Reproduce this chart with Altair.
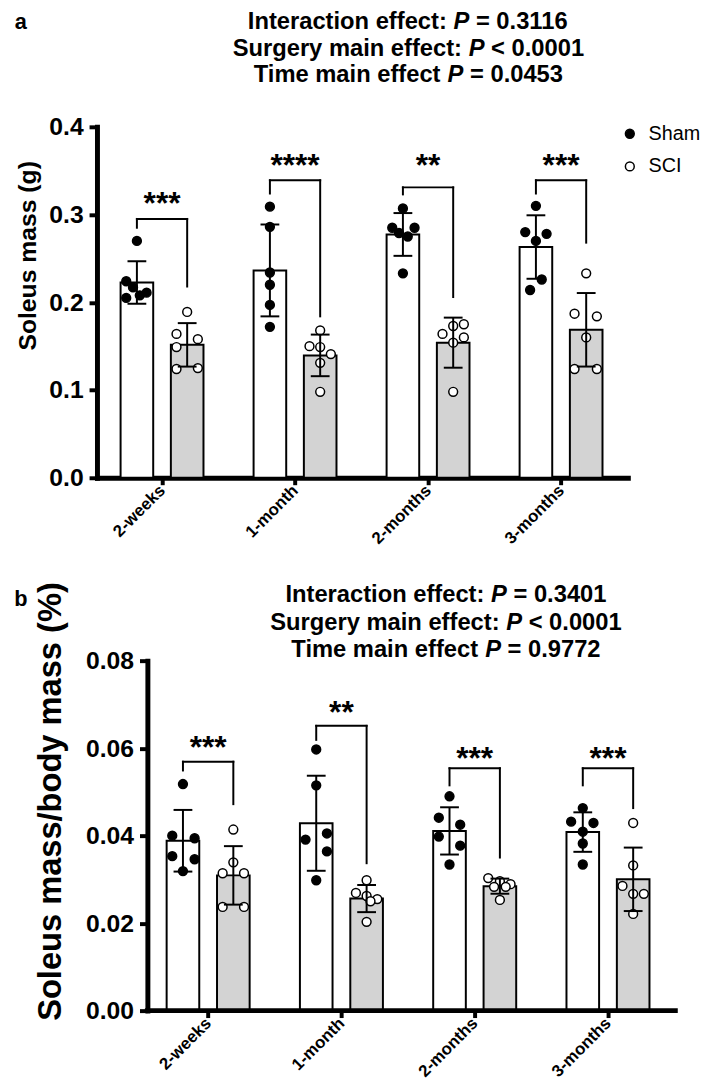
import json
import altair as alt
import pandas as pd

# ---------------- data ----------------
times = ["2-weeks", "1-month", "2-months", "3-months"]
groups = ["Sham", "SCI"]

# panel a: soleus mass (g), 6 animals per group and time point
a_sham = [[0.270, 0.224, 0.217, 0.205, 0.208, 0.211],
          [0.309, 0.286, 0.234, 0.220, 0.197, 0.172],
          [0.307, 0.285, 0.285, 0.279, 0.275, 0.233],
          [0.310, 0.280, 0.278, 0.270, 0.226, 0.214]]
a_sci = [[0.189, 0.164, 0.158, 0.149, 0.124, 0.125],
         [0.168, 0.150, 0.149, 0.141, 0.131, 0.098],
         [0.173, 0.175, 0.164, 0.160, 0.154, 0.098],
         [0.233, 0.187, 0.184, 0.160, 0.124, 0.124]]
a_sham_jitter = [[0, -11, -4, -11, 3, 10], [0, 0, 0, 0, 0, 0],
                 [0, -11, 12, -4, 5, 0], [0, -11, 11, 0, 6, -6]]
a_sci_jitter = [[0, -11, 11, -11, -11, 11], [0, -11, 0, 11, 0, 0],
                [0, 11, -11, 11, 0, 0], [0, -12, 11, 0, -12, 11]]
a_bracket_top = [0.295, 0.339, 0.331, 0.339]
a_bracket_sham_end = [0.285, 0.324, 0.323, 0.324]
a_bracket_sci_end = [0.218, 0.184, 0.206, 0.268]
a_stars = ["***", "****", "**", "***"]
a_stars_y = [0.316, 0.360, 0.360, 0.360]
a_stats = [("Interaction effect:", "= 0.3116"),
           ("Surgery main effect:", "< 0.0001"),
           ("Time main effect", "= 0.0453")]

# panel b: soleus mass / body mass (%)
b_sham = [[0.0518, 0.0400, 0.0394, 0.0353, 0.0346, 0.0319],
          [0.0597, 0.0515, 0.0391, 0.0405, 0.0364, 0.0298],
          [0.0490, 0.0441, 0.0425, 0.0398, 0.0377, 0.0334],
          [0.0463, 0.0432, 0.0429, 0.0409, 0.0382, 0.0334]]
b_sci = [[0.0414, 0.0339, 0.0314, 0.0314, 0.0237, 0.0237],
         [0.0298, 0.0269, 0.0262, 0.0255, 0.0250, 0.0203],
         [0.0303, 0.0296, 0.0289, 0.0283, 0.0283, 0.0253],
         [0.0429, 0.0332, 0.0285, 0.0267, 0.0267, 0.0221]]
b_sham_jitter = [[0, -11, 12, -11, 12, 0], [0, 0, -11, 11, 11, 0],
                 [0, -11, 11, -11, 11, 0], [0, -12, 11, 0, 0, 0]]
b_sci_jitter = [[0, 0, -11, 11, -11, 11], [0, -11, 0, 11, 4, 0],
                [-12, 0, 11, -6, 6, 0], [0, 0, -11, 0, 11, 0]]
b_bracket_top = [0.0569, 0.0651, 0.0554, 0.0554]
b_bracket_sham_end = [0.0549, 0.0619, 0.0515, 0.0515]
b_bracket_sci_end = [0.0472, 0.0337, 0.0350, 0.0463]
b_stars = ["***", "**", "***", "***"]
b_stars_y = [0.0610, 0.0689, 0.0583, 0.0583]
b_stats = [("Interaction effect:", "= 0.3401"),
           ("Surgery main effect:", "< 0.0001"),
           ("Time main effect", "= 0.9772")]

# ---------------- style ----------------
FONT = "Liberation Sans"
OFF = 0.189          # group offset from category centre (x units)
BARW = 33
HF_SIZE = 24

# Arial-bold advance widths (per em) used to lay out the stats lines
W = {" ": .278, ".": .278, ":": .333, "<": .584, "=": .584, "I": .278, "S": .667,
     "T": .611, "P": .667, "a": .556, "c": .556, "e": .556, "f": .333, "g": .611,
     "i": .278, "m": .889, "n": .611, "o": .611, "r": .389, "t": .333, "u": .611,
     "y": .556}


def em(s):
    return sum(W.get(ch, .556) for ch in s)


def points_df(sham, sci, sj, cj):
    rows = []
    for ti in range(len(times)):
        for v, j in zip(sham[ti], sj[ti]):
            rows.append({"t": ti, "group": "Sham", "value": v, "jit": j})
        for v, j in zip(sci[ti], cj[ti]):
            rows.append({"t": ti, "group": "SCI", "value": v, "jit": j})
    return pd.DataFrame(rows)


def panel(sham, sci, sj, cj, btop, bsham, bsci, stars, stars_y, stats, letter,
          ymax, yticks, yfmt, ytitle, L):
    df = points_df(sham, sci, sj, cj)
    unit = L["width"] / (L["xdom"][1] - L["xdom"][0])
    yoff = L["yoff"]
    xs = alt.Scale(domain=L["xdom"], nice=False, zero=False)
    ys = alt.Scale(domain=[0, ymax], nice=False, zero=True)
    xaxis = alt.Axis(values=list(range(len(times))), title=None,
                     labelExpr=f"{json.dumps(times)}[datum.value]",
                     labelAngle=-45, labelAlign="right", labelBaseline="middle",
                     labelFont=FONT, labelFontWeight="bold", labelFontSize=17,
                     labelColor="black", labelPadding=3,
                     domain=(yoff == 0), domainColor="black", domainWidth=5,
                     domainCap="square",
                     tickColor="black", tickWidth=4, tickSize=7, grid=False)
    yaxis = alt.Axis(values=yticks, format=yfmt, title=ytitle, offset=yoff,
                     labelFont=FONT, labelFontWeight="bold", labelFontSize=25,
                     labelColor="black", labelPadding=6,
                     domainColor="black", domainWidth=5, domainCap="square",
                     tickColor="black", tickWidth=4, tickSize=8, grid=False,
                     titleFont=FONT, titleFontWeight="bold",
                     titleFontSize=L["tsize"], titleColor="black",
                     titleX=L["tx"], titleY=L["ty"], titleAlign="center",
                     titleBaseline="middle")

    def X(f):
        return alt.X(f, type="quantitative", scale=xs, axis=xaxis)

    def Y(f):
        return alt.Y(f, type="quantitative", scale=ys, axis=yaxis)

    agg = alt.Chart(df).transform_aggregate(
        m="mean(value)", sd="stdev(value)", groupby=["t", "group"]
    ).transform_calculate(
        xc=f"datum.t + (datum.group == 'Sham' ? {-OFF} : {OFF})",
        lo="datum.m - datum.sd", hi="datum.m + datum.sd")

    bars = agg.mark_bar(orient="vertical", size=BARW, stroke="black",
                        strokeWidth=2).encode(
        x=X("xc"), y=Y("m"),
        fill=alt.condition(alt.datum.group == "Sham", alt.value("white"),
                           alt.value("#d3d3d3")))

    if L["legend"]:
        leg = alt.Legend(title=None, orient="none", legendX=L["legx"],
                         legendY=L["legy"], symbolType="circle", symbolSize=80,
                         symbolStrokeColor="black", symbolStrokeWidth=1.5,
                         labelFont=FONT, labelFontSize=20, labelColor="black",
                         labelOffset=9, rowPadding=13, padding=0)
    else:
        leg = None
    pts = alt.Chart(df).transform_calculate(
        xp=f"datum.t + (datum.group == 'Sham' ? {-OFF} : {OFF}) + datum.jit / {unit}"
    ).mark_circle(size=80, stroke="black", strokeWidth=1.5, opacity=1).encode(
        x=X("xp"), y=Y("value"),
        fill=alt.Fill("group:N", scale=alt.Scale(domain=groups,
                                                  range=["black", "white"]),
                      legend=leg))

    err = agg.mark_rule(strokeWidth=2, color="black").encode(
        x=X("xc"), y=Y("lo"), y2="hi:Q")
    cap_hi = agg.mark_tick(orient="horizontal", size=19, thickness=2,
                           color="black", opacity=1).encode(x=X("xc"), y=Y("hi"))
    cap_lo = agg.mark_tick(orient="horizontal", size=19, thickness=2,
                           color="black", opacity=1).encode(x=X("xc"), y=Y("lo"))

    brdf = pd.DataFrame({"t": list(range(len(times))), "top": btop,
                         "ls": bsham, "rs": bsci, "stars": stars, "sy": stars_y})
    br = alt.Chart(brdf).transform_calculate(xl=f"datum.t - {OFF}",
                                             xr=f"datum.t + {OFF}")
    r1 = br.mark_rule(strokeWidth=2, color="black", strokeCap="square").encode(
        x=X("xl"), y=Y("ls"), y2="top:Q")
    r2 = br.mark_rule(strokeWidth=2, color="black", strokeCap="square").encode(
        x=X("xl"), x2="xr:Q", y=Y("top"))
    r3 = br.mark_rule(strokeWidth=2, color="black", strokeCap="square").encode(
        x=X("xr"), y=Y("rs"), y2="top:Q")
    st = br.mark_text(font=FONT, fontSize=32, fontWeight="bold",
                      baseline="middle", dy=4, color="black").encode(
        x=X("t"), y=Y("sy"), text="stars:N")

    dummy = alt.Chart(pd.DataFrame({"d": [0]}))
    k = HF_SIZE
    extra = []
    for (pre, suf), yy in zip(stats, L["hy"]):
        total = em(pre) + em(" P ") + em(suf)
        x0 = L["hc"] - total * k / 2
        xp = x0 + (em(pre) + em(" ")) * k
        xsuf = xp + em("P ") * k
        for txt, xx, style in ((pre, x0, "normal"), ("P", xp, "italic"),
                               (suf, xsuf, "normal")):
            extra.append(dummy.mark_text(
                align="left", baseline="middle", font=FONT,
                fontSize=HF_SIZE, fontWeight="bold", fontStyle=style,
                color="black").encode(x=alt.value(xx), y=alt.value(yy),
                                      text=alt.value(txt)))
    extra.append(dummy.mark_text(align="center", baseline="middle", font=FONT,
                                 fontSize=22, fontWeight="bold",
                                 color="black").encode(
        x=alt.value(L["lx"]), y=alt.value(L["ly"]), text=alt.value(letter)))
    if yoff != 0:
        # x-axis baseline starting at the displaced y-axis
        extra.append(dummy.mark_rule(strokeWidth=5, color="black",
                                     strokeCap="square").encode(
            x=alt.value(-yoff), x2=alt.value(L["width"]),
            y=alt.value(L["height"])))

    return alt.layer(bars, pts, err, cap_hi, cap_lo, r1, r2, r3, st,
                     *extra).properties(width=L["width"], height=L["height"])


LA = dict(width=537, height=355, xdom=[-0.452, 3.465], yoff=0, tsize=25,
          tx=-70, ty=130, legend=True, legx=529, legy=-3, hc=315,
          hy=[-106, -79, -52], lx=-77, ly=-106)
LB = dict(width=585, height=354, xdom=[-0.797, 3.468], yoff=-51, tsize=33,
          tx=-98, ty=142, legend=False, hc=353, hy=[-66, -38, -11],
          lx=-77, ly=-62)

pa = panel(a_sham, a_sci, a_sham_jitter, a_sci_jitter, a_bracket_top,
           a_bracket_sham_end, a_bracket_sci_end, a_stars, a_stars_y, a_stats,
           "a", 0.4, [0, 0.1, 0.2, 0.3, 0.4], ".1f", "Soleus mass (g)", LA)
pb = panel(b_sham, b_sci, b_sham_jitter, b_sci_jitter, b_bracket_top,
           b_bracket_sham_end, b_bracket_sci_end, b_stars, b_stars_y, b_stats,
           "b", 0.08, [0, 0.02, 0.04, 0.06, 0.08], ".2f",
           "Soleus mass/body mass (%)", LB)

chart = alt.vconcat(pa, pb, spacing=35).properties(
    padding={"left": 6, "top": -4, "right": 0, "bottom": -3}
).configure_view(stroke=None)

chart.save("out.html", embed_options={"renderer": "svg", "actions": False})
